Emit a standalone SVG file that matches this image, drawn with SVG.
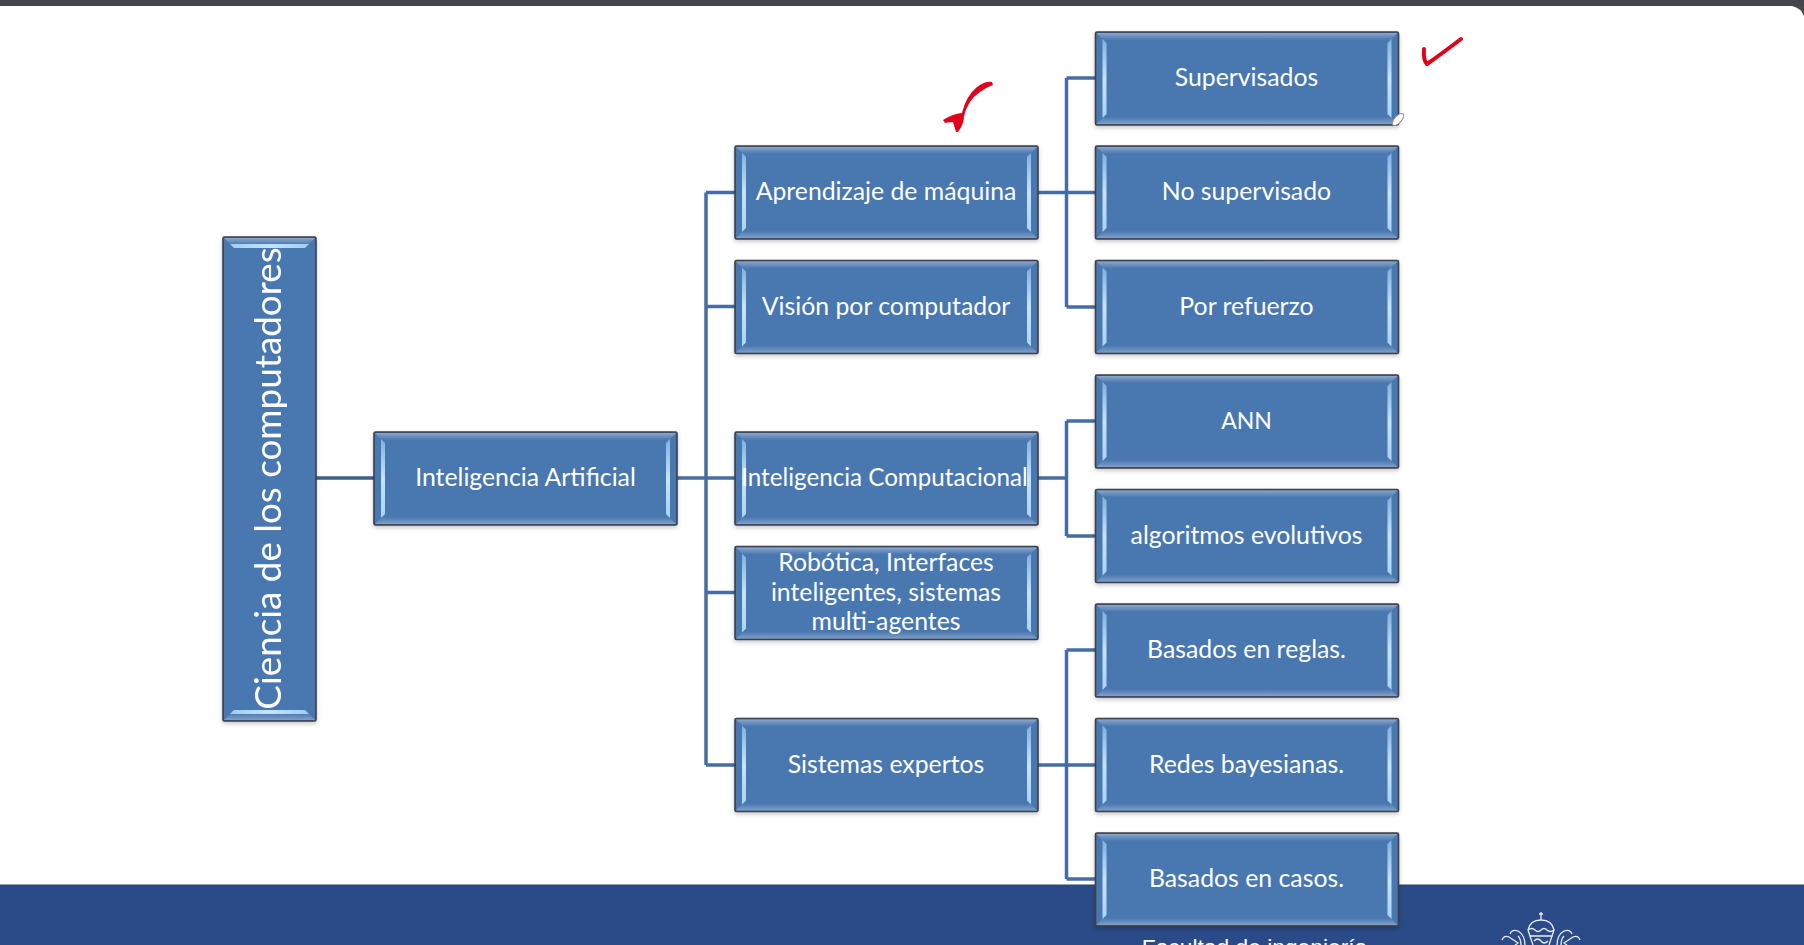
<svg xmlns="http://www.w3.org/2000/svg" width="1804" height="945" viewBox="0 0 1804 945">
<style>
.box{fill:#4a77b0;stroke:#3c3f44;stroke-width:1.600}
.hl{fill:url(#hg)}
text{font-family:Lato,"Liberation Sans",sans-serif;fill:#fff;font-size:24.800px;text-anchor:middle}
.c{fill:none;stroke:#466da3;stroke-width:3.5}
.d{fill:none;stroke:#3d5f8e;stroke-width:3.5}
.r{fill:none;stroke:#e2001a;stroke-linecap:round;stroke-linejoin:round}
.w{fill:none;stroke:#e8edf5;stroke-width:1.300}
</style>
<defs>
<linearGradient id="tg" x1="0" y1="0" x2="0" y2="1"><stop offset="0" stop-color="#8aa6cb"/><stop offset="1" stop-color="#4a77b0"/></linearGradient>
<linearGradient id="bg" x1="0" y1="1" x2="0" y2="0"><stop offset="0" stop-color="#7f9fc8"/><stop offset="1" stop-color="#4a77b0"/></linearGradient>
<linearGradient id="hg" x1="0" y1="0" x2="0" y2="1"><stop offset="0" stop-color="#7fb0dd"/><stop offset=".5" stop-color="#c4e4fa"/><stop offset="1" stop-color="#a8d4f4"/></linearGradient>
<linearGradient id="hh" x1="0" y1="0" x2="1" y2="0"><stop offset="0" stop-color="#9fcdf0"/><stop offset=".5" stop-color="#c4e4fa"/><stop offset="1" stop-color="#9fcdf0"/></linearGradient>
<filter id="sh" x="-5%" y="-5%" width="110%" height="115%"><feDropShadow dx="0" dy="2" stdDeviation="2" flood-color="#000" flood-opacity=".22"/></filter>
<g id="b" filter="url(#sh)">
<rect class="box" width="303" height="93" rx="1.500"/>
<path fill="url(#tg)" d="M1 1H302L295 8H8Z"/>
<path fill="url(#bg)" d="M1 92H302L295 85H8Z"/>
<path class="hl" d="M7 7L11 11V82L7 86ZM296 7L292 11V82L296 86Z"/>
</g>
</defs>
<rect width="1804" height="945" fill="#fff"/>
<rect width="1804" height="6" fill="#42464d"/>
<path d="M1792 6H1804V16Q1801 8 1792 6Z" fill="#4a4a4a"/>
<rect y="885" width="1804" height="60" fill="#2a4b87"/>
<rect y="884.500" width="1804" height="1" fill="#2f4468"/>
<text x="1254.500" y="955" style="font-family:'Liberation Sans',sans-serif;font-size:22.800px">Facultad de ingeniería</text>
<g id="crest" class="w">
<path d="M1541 912V920M1539 914H1543"/>
<path d="M1528 930Q1530 920 1541 920T1554 930L1552 936H1530Z"/>
<path d="M1528 930Q1532 927 1535 930T1541 930T1547 930T1554 930M1530 936L1533 945M1552 936L1549 945"/>
<path d="M1534 941Q1538 937 1541 941T1548 941"/>
<path d="M1502 940Q1504 935 1509 937L1518 943L1515 945M1510 934Q1512 929 1518 931Q1525 935 1525 945M1518 936Q1521 939 1521 945"/>
<path d="M1580 940Q1578 935 1573 937L1564 943L1567 945M1572 934Q1570 929 1564 931Q1557 935 1557 945M1564 936Q1561 939 1561 945"/>
</g>
<g id="connectors">
<path class="d" d="M316 478H374"/>
<path class="c" d="M677 478H735M706 192.500H735M706 306.500H735M706 592.500H735M706 765H735M706 192.500V765"/>
<path class="c" d="M1038 192.500H1095M1038 478H1066.500M1038 765H1095M1066.500 78H1095M1066.500 307H1095M1066.500 78V307M1066.500 421H1095M1066.500 536H1095M1066.500 421V536M1066.500 650H1095M1066.500 879H1095M1066.500 650V879"/>
</g>
<g id="n-root" filter="url(#sh)">
<rect class="box" x="223" y="237" width="93" height="484" rx="1.500"/>
<path fill="url(#tg)" d="M224 238H315L308 245H231Z"/>
<path fill="url(#bg)" d="M224 720H315L308 713H231Z"/>
<path fill="url(#hh)" d="M230 244H309L305 248H234ZM230 714H309L305 710H234Z"/>
<text transform="translate(281 478.500) rotate(-90)" style="font-size:36.800px">Ciencia de los computadores</text>
</g>
<g id="n-ia"><use href="#b" x="374" y="432"/><text x="525.500" y="486">Inteligencia Artificial</text></g>
<g id="n-am"><use href="#b" x="735" y="146"/><text x="886" y="200">Aprendizaje de máquina</text></g>
<g id="n-vc"><use href="#b" x="735" y="260.500"/><text x="886" y="314.500">Visión por computador</text></g>
<g id="n-ic"><use href="#b" x="735" y="432"/><text x="884.500" y="486" style="font-size:24.200px">Inteligencia Computacional</text></g>
<g id="n-ro"><use href="#b" x="735" y="546.500"/><text x="886" y="571">Robótica, Interfaces</text><text x="886" y="601">inteligentes, sistemas</text><text x="886" y="630">multi-agentes</text></g>
<g id="n-se"><use href="#b" x="735" y="718.500"/><text x="886" y="773">Sistemas expertos</text></g>
<g id="n-s1"><use href="#b" x="1095.500" y="32"/><text x="1246.500" y="85.500">Supervisados</text></g>
<g id="n-s2"><use href="#b" x="1095.500" y="146"/><text x="1246.500" y="200">No supervisado</text></g>
<g id="n-s3"><use href="#b" x="1095.500" y="260.500"/><text x="1246.500" y="314.500">Por refuerzo</text></g>
<g id="n-s4"><use href="#b" x="1095.500" y="375"/><text x="1246.500" y="429" style="font-size:23px">ANN</text></g>
<g id="n-s5"><use href="#b" x="1095.500" y="489.500"/><text x="1246.500" y="543.500">algoritmos evolutivos</text></g>
<g id="n-s6"><use href="#b" x="1095.500" y="604"/><text x="1246.500" y="658">Basados en reglas.</text></g>
<g id="n-s7"><use href="#b" x="1095.500" y="718.500"/><text x="1246.500" y="772.500">Redes bayesianas.</text></g>
<g id="n-s8"><use href="#b" x="1095.500" y="833"/><text x="1246.500" y="887">Basados en casos.</text></g>
<path class="r" stroke-width="4" d="M1424 49Q1423 60 1427 64Q1440 55 1461 39"/>
<path fill="#e2001a" d="M992 82Q985 81 977 87Q966 96 962 113Q952 114 943 120L945 123Q950 122 953 122L956 132L958 132Q964 124 964 116Q968 100 980 92Q987 87 993 85Z"/>
<ellipse cx="1398" cy="119.500" rx="7.500" ry="3.500" transform="rotate(-48 1398 119.500)" fill="#fff" stroke="#8a8a8a" stroke-width="1"/>
</svg>
